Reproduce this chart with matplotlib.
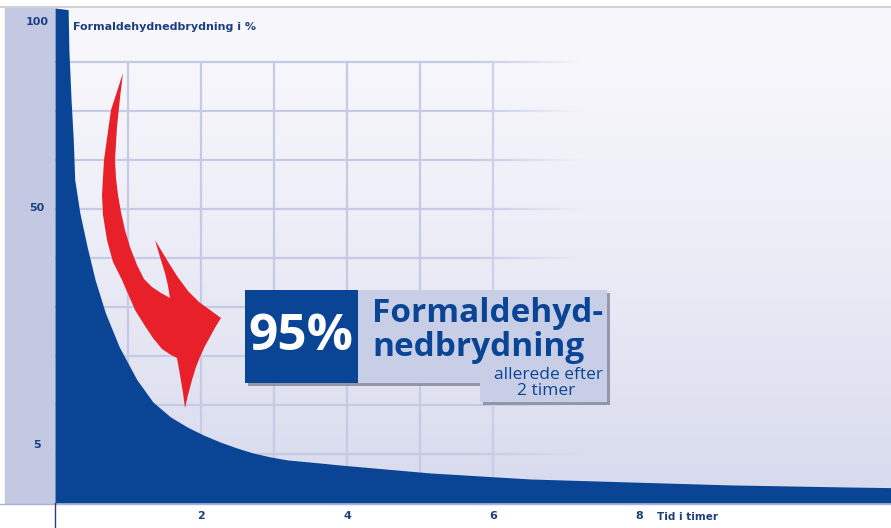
import numpy as np
import matplotlib
matplotlib.use("Agg")
import matplotlib.pyplot as plt
from matplotlib.patches import Polygon, Rectangle
from matplotlib.transforms import Affine2D
from matplotlib.colors import to_rgb

# Formaldehyde remaining (%) over time (hours)
hours = [0, 0.18, 0.19, 0.22, 0.25, 0.27, 0.34, 0.44, 0.55, 0.69, 0.88, 1.12, 1.34,
         1.58, 1.81, 2.03, 2.26, 2.49, 2.71, 2.95, 3.18, 3.63, 3.90, 5.14, 6.51, 7.88,
         9.25, 10.89, 11.45]
pct = [104, 103.5, 91.8, 77.6, 66.9, 56.6, 48.5, 40.6, 33.3, 26.5, 20.0, 14.3, 10.75,
       8.55, 7.16, 6.11, 5.23, 4.51, 3.94, 3.50, 3.18, 2.86, 2.66, 1.90, 1.38, 1.14,
       0.92, 0.77, 0.73]

x_ticks = [2, 4, 6, 8]
y_ticks = [5, 50, 100]
y_labels = ["5", "50", "100"]

BLUE = "#0a4595"
TXT = "#1d3f82"
W, H = 891, 528

fig = plt.figure(figsize=(W / 100, H / 100), dpi=100)
fig.patch.set_facecolor("white")
# pixel coordinates with origin at top-left, used for the decorations
px = Affine2D().scale(1 / W, -1 / H).translate(0, 1) + fig.transFigure

x0, x1, y0, y1 = 55, 891, 8, 503
ax = fig.add_axes([x0 / W, (H - y1) / H, (x1 - x0) / W, (y1 - y0) / H])
ax.patch.set_visible(False)
for s in ax.spines.values():
    s.set_visible(False)

# y axis compressed towards the top
ax.set_yscale("function", functions=(lambda v: np.power(np.clip(v, 0, None), 0.7),
                                     lambda u: np.power(np.clip(u, 0, None), 1 / 0.7)))

# background gradient
top, bot = np.array(to_rgb("#f8f8fc")), np.array(to_rgb("#d7daed"))
t = np.linspace(0, 1, 200)[:, None] ** 1.3
grad = top + (bot - top) * t
ax.imshow(grad[:, None, :].repeat(2, axis=1), extent=[0, 1, 0, 1], transform=ax.transAxes,
          aspect="auto", zorder=0, interpolation="bilinear")

# grid, faded out towards the right
gcol = "#c6cae4"
for h in range(1, 7):
    ax.axvline(h, ymin=0, ymax=0.891, color=gcol, lw=1.6, zorder=1)
for k in range(1, 10):
    ax.plot([0, 0.66], [k * 0.099, k * 0.099], transform=ax.transAxes, color=gcol, lw=1.6, zorder=1)
fade = np.zeros((200, 300, 4))
fade[:, :, :3] = grad[:, None, :]
fx = np.linspace(0, 1, 300)
fade[:, :, 3] = np.clip((fx - 0.50) / 0.13, 0, 1)[None, :]
ax.imshow(fade, extent=[0, 1, 0, 1], transform=ax.transAxes, aspect="auto", zorder=1.5,
          interpolation="bilinear")

# decay curve
ax.fill_between(hours, pct, 0, color=BLUE, lw=0, zorder=2)

ax.set_xlim(0, 11.45)
ax.set_ylim(0, 104)
ax.set_xticks(x_ticks)
ax.set_xticklabels([str(v) for v in x_ticks])
ax.set_yticks(y_ticks)
ax.set_yticklabels(y_labels)
ax.tick_params(length=0, labelsize=8, labelcolor=TXT)
ax.tick_params(axis="y", pad=13)
ax.tick_params(axis="x", pad=6)
for lab in ax.get_yticklabels():
    lab.set_horizontalalignment("center")
    lab.set_fontweight("bold")
for lab in ax.get_xticklabels():
    lab.set_fontweight("bold")

ax.text(0.0215, 0.962, "Formaldehydnedbrydning i %", transform=ax.transAxes, fontsize=8,
        fontweight="bold", color=TXT, va="center", ha="left")
ax.text(0.72, -0.028, "Tid i timer", transform=ax.transAxes, fontsize=7.5,
        fontweight="bold", color=TXT, va="center", ha="left")

# frame pieces around the plot area
fig.add_artist(Rectangle((5, 8), 50, 495, transform=px, color="#c4c9e3", zorder=-1))
fig.add_artist(plt.Line2D([0, W], [7, 7], transform=px, color="#cfd0d8", lw=1.5))
fig.add_artist(plt.Line2D([0, W], [503.5, 503.5], transform=px, color="#a9b1d4", lw=1))
fig.add_artist(plt.Line2D([55, 55], [503, H], transform=px, color="#2c3f72", lw=1))

# red arrow
arrow = [(123, 73), (111, 110), (104, 160), (102, 195), (103, 215), (107, 240), (113, 262),
         (122, 280), (135, 310), (145, 326), (153, 338), (162, 349), (171, 355), (177, 358),
         (180, 375), (183, 393), (185, 408), (188, 395), (192, 380), (196, 367), (200, 357),
         (205, 346), (210, 337), (216, 326), (221, 318), (210, 310), (199, 302), (188, 291),
         (177, 276), (167, 260), (155, 240), (160, 257), (165, 273), (168, 286), (170, 298),
         (161, 293), (152, 287), (144, 279), (137, 265), (130, 247), (125, 230), (121, 212),
         (118, 195), (116, 178), (115, 160), (117, 127), (120, 98), (123, 73)]
ax.add_patch(Polygon(arrow, closed=True, transform=px, color="#e8202a", lw=0, zorder=4,
                     clip_on=False))

# callout box
box = [(245, 290), (607, 290), (607, 402), (480, 402), (480, 383), (245, 383)]
shadow = [(x + 3, y + 3) for x, y in box]
ax.add_patch(Polygon(shadow, transform=px, color="#7f8699", alpha=0.8, lw=0, zorder=5,
                     clip_on=False))
ax.add_patch(Polygon(box, transform=px, color="#c9cee7", lw=0, zorder=6, clip_on=False))
ax.add_patch(Rectangle((245, 290), 113, 93, transform=px, color=BLUE, lw=0, zorder=7,
                       clip_on=False))

ax.text(301, 350, "95%", transform=px, color="white", fontsize=37, fontweight="bold",
        family="Open Sans", ha="center", va="baseline", zorder=8)
ax.text(372, 322, "Formaldehyd-", transform=px, color=BLUE, fontsize=24, fontweight="bold",
        family="Open Sans", ha="left", va="baseline", zorder=8)
ax.text(372, 356, "nedbrydning", transform=px, color=BLUE, fontsize=24, fontweight="bold",
        family="Open Sans", ha="left", va="baseline", zorder=8)
ax.text(603, 375, "allerede efter", transform=px, color=BLUE, fontsize=12.5,
        family="Open Sans", ha="right", va="center", zorder=8)
ax.text(546, 391, "2 timer", transform=px, color=BLUE, fontsize=12.5,
        family="Open Sans", ha="center", va="center", zorder=8)

fig.savefig("out.png", dpi=100)
